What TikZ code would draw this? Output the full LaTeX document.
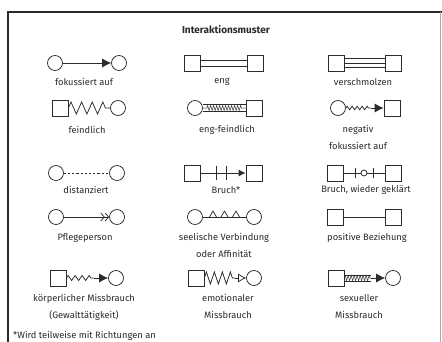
\documentclass[tikz,border=0pt]{standalone}
\usepackage{fontspec}
\setmainfont{Fira Sans}
\usetikzlibrary{arrows.meta,decorations.pathmorphing,calc}
\definecolor{ink}{HTML}{2B2B2B}
\tikzset{
  pc/.style={circle,draw=ink,line width=0.75pt,minimum size=15pt,inner sep=0pt},
  ps/.style={rectangle,draw=ink,line width=0.75pt,minimum size=16pt,inner sep=0pt},
  rel/.style={draw=ink,line width=0.75pt},
  lbl/.style={font=\fontsize{9.3}{17}\selectfont,text=ink,inner sep=0pt,align=center},
  ttl/.style={font=\bfseries\fontsize{10}{12}\selectfont,text=ink,inner sep=0pt},
  fullhead/.style={-{Latex[length=9pt,width=9pt]}},
}
\begin{document}
\begin{tikzpicture}[x=1pt,y=-1pt]
\useasboundingbox (0,0) rectangle (442,341);
\fill[white] (0,0) rectangle (442,341);
% frame
\draw[ink,line width=1.4pt] (8,350) -- (8,12) -- (445,12);
\draw[ink!40,line width=0.6pt] (440,12) -- (440,350);

\node[ttl] (title) at (226,30) {Interaktionsmuster};

% ---- row 1
\node[pc] (a1) at (55,63) {};  \node[pc] (a2) at (119,63) {};
\draw[rel,fullhead] (a1) -- (a2);
\node[lbl] (la) at (84,82) {fokussiert auf};

\node[ps] (b1) at (192,63) {}; \node[ps] (b2) at (255,63) {};
\draw[rel] ([yshift=3pt]b1.east) -- ([yshift=3pt]b2.west);
\draw[rel] ([yshift=-3pt]b1.east) -- ([yshift=-3pt]b2.west);
\node[lbl] (lb) at (222,82) {eng};

\node[ps] (c1) at (336,63) {}; \node[ps] (c2) at (393,63) {};
\draw[rel] ([yshift=4.5pt]c1.east) -- ([yshift=4.5pt]c2.west);
\draw[rel] (c1.east) -- (c2.west);
\draw[rel] ([yshift=-4.5pt]c1.east) -- ([yshift=-4.5pt]c2.west);
\node[lbl] (lc) at (363,82) {verschmolzen};

% ---- row 2
\node[ps] (d1) at (60,108) {}; \node[pc] (d2) at (118,108) {};
\draw[rel,decorate,decoration={zigzag,amplitude=6pt,segment length=10.6pt}] (d1.east) -- (d2.west);
\node[lbl] (ld) at (87,130) {feindlich};

\node[pc] (e1) at (195,108) {}; \node[ps] (e2) at (254,108) {};
\draw[rel] ([yshift=3.5pt]e1.east) -- ([yshift=3.5pt]e2.west);
\draw[rel] ([yshift=-3.5pt]e1.east) -- ([yshift=-3.5pt]e2.west);
\draw[rel,line width=0.5pt,decorate,decoration={zigzag,amplitude=2.6pt,segment length=3pt,pre length=4pt,post length=4pt}] (e1.east) -- (e2.west);
\node[lbl] (le) at (227,130) {eng-feindlich};

\node[pc] (g1) at (338,108) {}; \node[ps] (g2) at (392,108) {};
\coordinate (g3) at ($(g2.west)+(-13,0)$);
\draw[rel,decorate,decoration={zigzag,amplitude=1.8pt,segment length=5pt}] (g1.east) -- (g3);
\draw[rel,fullhead] (g3) -- (g2.west);
\node[lbl,anchor=north] (lg) at (358,125) {negativ\\fokussiert auf};

% ---- row 3
\node[pc] (h1) at (56,173) {}; \node[pc] (h2) at (117,173) {};
\draw[rel,dash pattern=on 2.2pt off 2pt] (h1) -- (h2);
\node[lbl] (lh) at (86,190) {distanziert};

\node[ps] (i1) at (192,173) {}; \node[ps] (i2) at (254,173) {};
\draw[rel,-{Latex[length=7pt,width=7pt]}] (i1) -- (i2);
\draw[rel] (216,166) -- (216,180);
\draw[rel] (226,166) -- (226,180);
\node[lbl] (li) at (226,190) {Bruch*};

\node[ps] (j1) at (335,173) {}; \node[ps] (j2) at (393,173) {};
\draw[rel] (j1) -- (j2);
\draw[rel] (355,168) -- (355,178);
\draw[rel] (373,168) -- (373,178);
\draw[rel,fill=white] (364,173) circle (3pt);
\node[lbl] (lj) at (366,190) {Bruch, wieder geklärt};

% ---- row 4
\node[pc] (k1) at (56,217) {}; \node[pc] (k2) at (117,217) {};
\draw[rel,-{Straight Barb[length=3.5pt,width=8pt]Straight Barb[length=3.5pt,width=8pt]}] (k1) -- (k2);
\node[lbl] (lk) at (85,238) {Pflegeperson};

\node[pc] (m1) at (195,217) {}; \node[pc] (m2) at (254,217) {};
\draw[rel] (m1) -- (m2);
\foreach \xx in {213,224.5,236}
  \draw[rel,line join=round] (\xx-3.5,217) -- (\xx,211) -- (\xx+3.5,217);
\node[lbl,anchor=north] (lm) at (224,233) {seelische Verbindung\\oder Affinität};

\node[ps] (n1) at (335,217) {}; \node[ps] (n2) at (393,217) {};
\draw[rel] (n1) -- (n2);
\node[lbl] (ln) at (367,238) {positive Beziehung};

% ---- row 5
\node[ps] (p1) at (58,278) {}; \node[pc] (p2) at (116,278) {};
\coordinate (p3) at ($(p2.west)+(-14,0)$);
\draw[rel,decorate,decoration={zigzag,amplitude=2.5pt,segment length=7pt}] (p1.east) -- (p3);
\draw[rel,fullhead] (p3) -- (p2.west);
\node[lbl,anchor=north] (lp) at (84,294) {körperlicher Missbrauch\\(Gewalttätigkeit)};

\node[ps] (q1) at (196,278) {}; \node[pc] (q2) at (254,278) {};
\coordinate (q3) at ($(q2.west)+(-11,0)$);
\draw[rel,decorate,decoration={zigzag,amplitude=6pt,segment length=8pt}] (q1.east) -- (q3);
\draw[rel,-{Latex[open,length=8pt,width=9pt]}] (q3) -- (q2.west);
\node[lbl,anchor=north] (lq) at (228,294) {emotionaler\\Missbrauch};

\node[ps] (r1) at (336,278) {}; \node[pc] (r2) at (393,278) {};
\coordinate (r3) at ($(r2.west)+(-14,0)$);
\draw[rel] ([yshift=3pt]r1.east) -- ([yshift=3pt]r3);
\draw[rel] ([yshift=-3pt]r1.east) -- ([yshift=-3pt]r3);
\draw[rel,line width=0.5pt,decorate,decoration={zigzag,amplitude=2.6pt,segment length=3pt}] (r1.east) -- (r3);
\draw[rel,fullhead] (r3) -- (r2.west);
\node[lbl,anchor=north] (lr) at (359,294) {sexueller\\Missbrauch};

% footnote
\node[lbl,anchor=west] (foot) at (13,336) {*Wird teilweise mit Richtungen an};
\end{tikzpicture}
\end{document}
